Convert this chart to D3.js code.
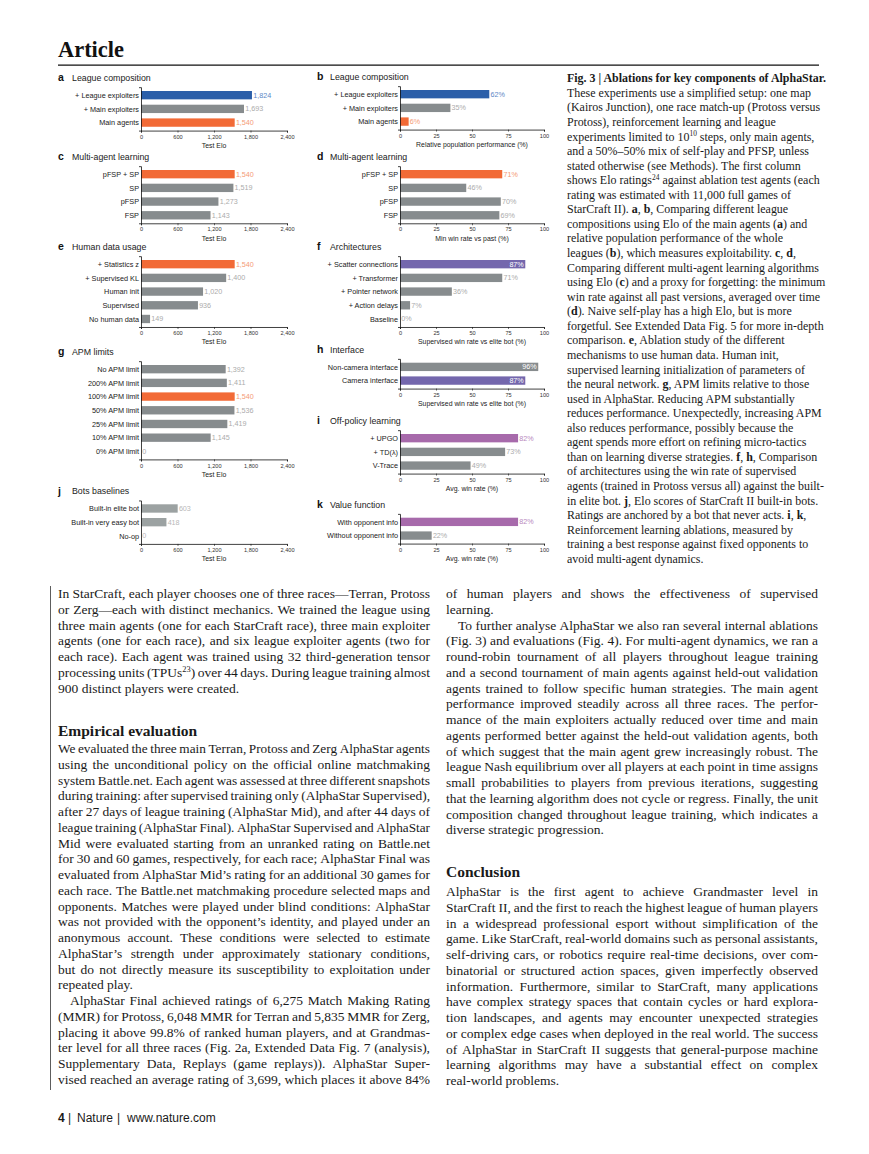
<!DOCTYPE html>
<html>
<head>
<meta charset="utf-8">
<script src="https://cdn.jsdelivr.net/npm/d3@7"></script>
<style>body{margin:0;background:#fff}</style>
</head>
<body>
<svg id="page" width="869" height="1154"></svg>
<script>
// ---- chart data ----
const aCats = ["+ League exploiters", "+ Main exploiters", "Main agents"];
const aVals = [1824, 1693, 1540];
const bCats = ["+ League exploiters", "+ Main exploiters", "Main agents"];
const bVals = [62, 35, 6];
const cCats = ["pFSP + SP", "SP", "pFSP", "FSP"];
const cVals = [1540, 1519, 1273, 1143];
const dCats = ["pFSP + SP", "SP", "pFSP", "FSP"];
const dVals = [71, 46, 70, 69];
const eCats = ["+ Statistics z", "+ Supervised KL", "Human init", "Supervised", "No human data"];
const eVals = [1540, 1400, 1020, 936, 149];
const fCats = ["+ Scatter connections", "+ Transformer", "+ Pointer network", "+ Action delays", "Baseline"];
const fVals = [87, 71, 36, 7, 0];
const gCats = ["No APM limit", "200% APM limit", "100% APM limit", "50% APM limit", "25% APM limit", "10% APM limit", "0% APM limit"];
const gVals = [1392, 1411, 1540, 1536, 1419, 1145, 0];
const hCats = ["Non-camera interface", "Camera interface"];
const hVals = [96, 87];
const iCats = ["+ UPGO", "+ TD(\u03bb)", "V-Trace"];
const iVals = [82, 73, 49];
const jCats = ["Built-in elite bot", "Built-in very easy bot", "No-op"];
const jVals = [603, 418, 0];
const kCats = ["With opponent info", "Without opponent info"];
const kVals = [82, 22];

const eloTicks = [0, 600, 1200, 1800, 2400];
const pctTicks = [0, 25, 50, 75, 100];

// ---- text ----
const caption = [
  "*Fig. 3 | Ablations for key components of AlphaStar.*",
  "These experiments use a simplified setup: one map",
  "(Kairos Junction), one race match-up (Protoss versus",
  "Protoss), reinforcement learning and league",
  "experiments limited to 10^10^ steps, only main agents,",
  "and a 50%\u201350% mix of self-play and PFSP, unless",
  "stated otherwise (see Methods). The first column",
  "shows Elo ratings^24^ against ablation test agents (each",
  "rating was estimated with 11,000 full games of",
  "StarCraft II). *a*, *b*, Comparing different league",
  "compositions using Elo of the main agents (*a*) and",
  "relative population performance of the whole",
  "leagues (*b*), which measures exploitability. *c*, *d*,",
  "Comparing different multi-agent learning algorithms",
  "using Elo (*c*) and a proxy for forgetting: the minimum",
  "win rate against all past versions, averaged over time",
  "(*d*). Naive self-play has a high Elo, but is more",
  "forgetful. See Extended Data Fig. 5 for more in-depth",
  "comparison. *e*, Ablation study of the different",
  "mechanisms to use human data. Human init,",
  "supervised learning initialization of parameters of",
  "the neural network. *g*, APM limits relative to those",
  "used in AlphaStar. Reducing APM substantially",
  "reduces performance. Unexpectedly, increasing APM",
  "also reduces performance, possibly because the",
  "agent spends more effort on refining micro-tactics",
  "than on learning diverse strategies. *f*, *h*, Comparison",
  "of architectures using the win rate of supervised",
  "agents (trained in Protoss versus all) against the built-",
  "in elite bot. *j*, Elo scores of StarCraft II built-in bots.",
  "Ratings are anchored by a bot that never acts. *i*, *k*,",
  "Reinforcement learning ablations, measured by",
  "training a best response against fixed opponents to",
  "avoid multi-agent dynamics."
];

const leftP1 = [
  "In StarCraft, each player chooses one of three races\u2014Terran, Protoss",
  "or Zerg\u2014each with distinct mechanics. We trained the league using",
  "three main agents (one for each StarCraft race), three main exploiter",
  "agents (one for each race), and six league exploiter agents (two for",
  "each race). Each agent was trained using 32 third-generation tensor",
  "processing units (TPUs^23^) over 44 days. During league training almost",
  "900 distinct players were created."
];
const leftP2 = [
  "We evaluated the three main Terran, Protoss and Zerg AlphaStar agents",
  "using the unconditional policy on the official online matchmaking",
  "system Battle.net. Each agent was assessed at three different snapshots",
  "during training: after supervised training only (AlphaStar Supervised),",
  "after 27 days of league training (AlphaStar Mid), and after 44 days of",
  "league training (AlphaStar Final). AlphaStar Supervised and AlphaStar",
  "Mid were evaluated starting from an unranked rating on Battle.net",
  "for 30 and 60 games, respectively, for each race; AlphaStar Final was",
  "evaluated from AlphaStar Mid\u2019s rating for an additional 30 games for",
  "each race. The Battle.net matchmaking procedure selected maps and",
  "opponents. Matches were played under blind conditions: AlphaStar",
  "was not provided with the opponent\u2019s identity, and played under an",
  "anonymous account. These conditions were selected to estimate",
  "AlphaStar\u2019s strength under approximately stationary conditions,",
  "but do not directly measure its susceptibility to exploitation under",
  "repeated play."
];
const leftP3 = [
  "AlphaStar Final achieved ratings of 6,275 Match Making Rating",
  "(MMR) for Protoss, 6,048 MMR for Terran and 5,835 MMR for Zerg,",
  "placing it above 99.8% of ranked human players, and at Grandmas-",
  "ter level for all three races (Fig. 2a, Extended Data Fig. 7 (analysis),",
  "Supplementary Data, Replays (game replays)). AlphaStar Super-",
  "vised reached an average rating of 3,699, which places it above 84%"
];
const rightP3 = [
  "of human players and shows the effectiveness of supervised",
  "learning."
];
const rightP4 = [
  "To further analyse AlphaStar we also ran several internal ablations",
  "(Fig. 3) and evaluations (Fig. 4). For multi-agent dynamics, we ran a",
  "round-robin tournament of all players throughout league training",
  "and a second tournament of main agents against held-out validation",
  "agents trained to follow specific human strategies. The main agent",
  "performance improved steadily across all three races. The perfor-",
  "mance of the main exploiters actually reduced over time and main",
  "agents performed better against the held-out validation agents, both",
  "of which suggest that the main agent grew increasingly robust. The",
  "league Nash equilibrium over all players at each point in time assigns",
  "small probabilities to players from previous iterations, suggesting",
  "that the learning algorithm does not cycle or regress. Finally, the unit",
  "composition changed throughout league training, which indicates a",
  "diverse strategic progression."
];
const rightP5 = [
  "AlphaStar is the first agent to achieve Grandmaster level in",
  "StarCraft II, and the first to reach the highest league of human players",
  "in a widespread professional esport without simplification of the",
  "game. Like StarCraft, real-world domains such as personal assistants,",
  "self-driving cars, or robotics require real-time decisions, over com-",
  "binatorial or structured action spaces, given imperfectly observed",
  "information. Furthermore, similar to StarCraft, many applications",
  "have complex strategy spaces that contain cycles or hard explora-",
  "tion landscapes, and agents may encounter unexpected strategies",
  "or complex edge cases when deployed in the real world. The success",
  "of AlphaStar in StarCraft II suggests that general-purpose machine",
  "learning algorithms may have a substantial effect on complex",
  "real-world problems."
];

// ---- styles ----
const SANS = "'Liberation Sans', Arial, sans-serif";
const SERIF = "'Liberation Serif', 'Times New Roman', serif";
const INK = "#1a1a1a";
const pal = { gray: "#878c8e", blue: "#2b5fa9", orange: "#f26a36", violet: "#7467ad", orchid: "#a76aab", bot: "#9ca2a2" };
const labPal = { gray: "#ababab", blue: "#5d87c6", orange: "#f59a75", violet: "#ffffff", orchid: "#b889bd", bot: "#b8b8b8" };

const svg = d3.select("#page");

// page header
svg.append("text").attr("x", 58).attr("y", 56.7)
  .attr("font-family", SERIF).attr("font-weight", "bold").attr("font-size", 24)
  .attr("textLength", 66).attr("lengthAdjust", "spacingAndGlyphs")
  .attr("fill", "#111").text("Article");
svg.append("line").attr("x1", 58).attr("x2", 819).attr("y1", 65.2).attr("y2", 65.2)
  .attr("stroke", "#111").attr("stroke-width", 1.3);

// ---- panels ----
const panels = [
  { key: "a", title: "League composition", cats: aCats, vals: aVals, kind: "elo", col: 0, top: 91, hl: { 0: "blue", 2: "orange" }, axisLabel: "Test Elo" },
  { key: "c", title: "Multi-agent learning", cats: cCats, vals: cVals, kind: "elo", col: 0, top: 170, hl: { 0: "orange" }, axisLabel: "Test Elo" },
  { key: "e", title: "Human data usage", cats: eCats, vals: eVals, kind: "elo", col: 0, top: 260, hl: { 0: "orange" }, axisLabel: "Test Elo" },
  { key: "g", title: "APM limits", cats: gCats, vals: gVals, kind: "elo", col: 0, top: 365, hl: { 2: "orange" }, axisLabel: "Test Elo" },
  { key: "j", title: "Bots baselines", cats: jCats, vals: jVals, kind: "elo", col: 0, top: 504.3, hl: {}, base: "bot", axisLabel: "Test Elo" },
  { key: "b", title: "League composition", cats: bCats, vals: bVals, kind: "pct", col: 1, top: 90, hl: { 0: "blue", 2: "orange" }, axisLabel: "Relative population performance (%)" },
  { key: "d", title: "Multi-agent learning", cats: dCats, vals: dVals, kind: "pct", col: 1, top: 170, hl: { 0: "orange" }, axisLabel: "Min win rate vs past (%)" },
  { key: "f", title: "Architectures", cats: fCats, vals: fVals, kind: "pct", col: 1, top: 260, hl: { 0: "violet" }, inside: [0], axisLabel: "Supervised win rate vs elite bot (%)" },
  { key: "h", title: "Interface", cats: hCats, vals: hVals, kind: "pct", col: 1, top: 362.7, hl: { 1: "violet" }, inside: [0, 1], axisLabel: "Supervised win rate vs elite bot (%)" },
  { key: "i", title: "Off-policy learning", cats: iCats, vals: iVals, kind: "pct", col: 1, top: 434, hl: { 0: "orchid" }, axisLabel: "Avg. win rate (%)" },
  { key: "k", title: "Value function", cats: kCats, vals: kVals, kind: "pct", col: 1, top: 517.7, hl: { 0: "orchid" }, axisLabel: "Avg. win rate (%)" }
];

const cols = [
  { x0: 141, x1: 287, letterX: 58, titleX: 72 },
  { x0: 400, x1: 544, letterX: 317, titleX: 330 }
];
const STEP = 13.7, PIN = 0.39, POUT = 0.28;

panels.forEach(p => {
  const c = cols[p.col];
  const n = p.cats.length;
  const axisY = p.top + STEP * (n - PIN + POUT);
  const y = d3.scaleBand().domain(p.cats)
    .range([axisY - STEP * (n - PIN + 2 * POUT), axisY])
    .paddingInner(PIN).paddingOuter(POUT);
  const x = d3.scaleLinear().domain(p.kind === "elo" ? [0, 2400] : [0, 100]).range([c.x0, c.x1]);
  const fmt = p.kind === "elo" ? d3.format(",") : (d => d + "%");
  const colorOf = i => p.hl[i] || p.base || "gray";
  const g = svg.append("g");

  // letter + title
  const ty = p.top - 13.3 + 3.3;
  g.append("text").attr("x", c.letterX).attr("y", ty + 0.3)
    .attr("font-family", SANS).attr("font-weight", "bold").attr("font-size", 10.5)
    .attr("fill", "#111").text(p.key);
  g.append("text").attr("x", c.titleX).attr("y", ty)
    .attr("font-family", SANS).attr("font-size", 8.8).attr("fill", "#222").text(p.title);

  // bars
  g.selectAll("rect.bar").data(p.vals).join("rect").attr("class", "bar")
    .attr("x", x(0))
    .attr("y", (d, i) => y(p.cats[i]))
    .attr("width", d => x(d) - x(0))
    .attr("height", y.bandwidth())
    .attr("fill", (d, i) => pal[colorOf(i)]);

  // value labels
  const inside = p.inside || [];
  g.selectAll("text.val").data(p.vals).join("text").attr("class", "val")
    .attr("x", (d, i) => inside.includes(i) ? x(d) - 1.5 : x(d) + 1.2)
    .attr("y", (d, i) => y(p.cats[i]) + y.bandwidth() / 2 + 2.5)
    .attr("text-anchor", (d, i) => inside.includes(i) ? "end" : "start")
    .attr("font-family", SANS).attr("font-size", 7.2)
    .attr("fill", (d, i) => inside.includes(i) ? "#fff" : labPal[colorOf(i)])
    .text(d => fmt(d));

  // x axis
  const xa = g.append("g").attr("transform", `translate(0,${axisY})`)
    .call(d3.axisBottom(x).tickValues(p.kind === "elo" ? eloTicks : pctTicks)
      .tickSize(2).tickPadding(2.2).tickFormat(p.kind === "elo" ? d3.format(",") : d3.format("d")));
  xa.attr("font-family", SANS).attr("font-size", 5.6);
  xa.select(".domain").attr("stroke", "#111").attr("stroke-width", 0.8);
  xa.selectAll(".tick line").attr("stroke", "#111").attr("stroke-width", 0.6);
  xa.selectAll(".tick text").attr("fill", "#333");

  // y axis
  const ya = g.append("g").attr("transform", `translate(${c.x0},0)`)
    .call(d3.axisLeft(y).tickSizeInner(0).tickSizeOuter(2).tickPadding(2));
  ya.attr("font-family", SANS).attr("font-size", 7.3);
  ya.select(".domain").attr("stroke", "#111").attr("stroke-width", 0.8);
  ya.selectAll(".tick text").attr("fill", "#222").attr("dy", "0.36em");

  g.append("text").attr("x", (c.x0 + c.x1) / 2).attr("y", axisY + 17.5)
    .attr("text-anchor", "middle").attr("font-family", SANS).attr("font-size", 6.9)
    .attr("fill", "#222").text(p.axisLabel);
});

// ---- rich text helpers ----
function segs(str) {
  return str.split(/(\*[^*]+\*|\^[^^]+\^)/).filter(s => s).map(s =>
    s[0] === "*" ? { t: s.slice(1, -1), b: true } :
    s[0] === "^" ? { t: s.slice(1, -1), sup: true } : { t: s });
}
function rich(t, str, fs) {
  let shift = 0;
  segs(str).forEach(sg => {
    const ts = t.append("tspan").text(sg.t);
    if (sg.b) ts.attr("font-weight", "bold");
    if (sg.sup) {
      ts.attr("font-size", fs * 0.62).attr("dy", -fs * 0.38 - shift);
      shift = -fs * 0.38;
    } else if (shift) {
      ts.attr("dy", -shift);
      shift = 0;
    }
  });
  return t;
}

// ---- caption ----
const CFS = 12;
const capEls = caption.map((line, i) => {
  const t = svg.append("text").attr("x", 567).attr("y", 78.3 + i * 14.56 + 4)
    .attr("font-family", SERIF).attr("font-size", CFS).attr("fill", INK);
  return rich(t, line, CFS);
});
const refW = capEls[13].node().getComputedTextLength();
const capK = 252 / refW;
capEls.forEach(e => {
  const w = e.node().getComputedTextLength();
  e.attr("textLength", w * capK).attr("lengthAdjust", "spacingAndGlyphs");
});

// ---- body text ----
const BFS = 13.5, LH = 15.75;
function bodyLine(str, x, y, w, justify) {
  const words = str.split(" ");
  const els = words.map(wd => rich(svg.append("text").attr("y", y)
    .attr("font-family", SERIF).attr("font-size", BFS).attr("fill", INK), wd, BFS));
  const ws = els.map(e => e.node().getComputedTextLength());
  const sum = d3.sum(ws);
  let gap = BFS * 0.25, k = 1;
  if (justify && words.length > 1) {
    gap = (w - sum) / (words.length - 1);
    if (gap < BFS * 0.19) { gap = BFS * 0.19; k = (w - gap * (words.length - 1)) / sum; }
  } else if (sum + gap * (words.length - 1) > w) {
    k = (w - gap * (words.length - 1)) / sum;
  }
  let cx = x;
  els.forEach((e, i) => {
    e.attr("x", cx);
    if (k !== 1) e.attr("textLength", ws[i] * k).attr("lengthAdjust", "spacingAndGlyphs");
    cx += ws[i] * k + gap;
  });
}
function paragraph(lines, x, w, y0, indent, lastEnds) {
  lines.forEach((l, i) => {
    const ind = i === 0 ? indent : 0;
    const last = i === lines.length - 1 && lastEnds;
    bodyLine(l, x + ind, y0 + i * LH + 4, w - ind, !last);
  });
  return y0 + lines.length * LH;
}
function heading(str, x, y) {
  svg.append("text").attr("x", x).attr("y", y).attr("font-family", SERIF)
    .attr("font-weight", "bold").attr("font-size", 15.5).attr("fill", INK).text(str);
}

const LX = 58, RX = 446, CW = 372;
paragraph(leftP1, LX, CW, 594, 0, true);
heading("Empirical evaluation", LX, 736);
let yy = paragraph(leftP2, LX, CW, 749, 0, true);
paragraph(leftP3, LX, CW, yy, 12, false);

yy = paragraph(rightP3, RX, CW, 594, 0, true);
paragraph(rightP4, RX, CW, yy, 12, true);
heading("Conclusion", RX, 877);
paragraph(rightP5, RX, CW, 892, 0, true);

// gutter rule
svg.append("line").attr("x1", 50.5).attr("x2", 50.5).attr("y1", 586).attr("y2", 1090)
  .attr("stroke", "#333").attr("stroke-width", 0.8);

// ---- footer ----
const foot = svg.append("text").attr("x", 58).attr("y", 1121.5)
  .attr("font-family", SANS).attr("font-size", 12).attr("fill", INK);
foot.append("tspan").attr("font-weight", "bold").text("4");
foot.append("tspan").attr("x", 68).text("|");
foot.append("tspan").attr("x", 77).text("Nature");
foot.append("tspan").attr("x", 117).text("|");
foot.append("tspan").attr("x", 127).text("www.nature.com");
</script>
</body>
</html>
